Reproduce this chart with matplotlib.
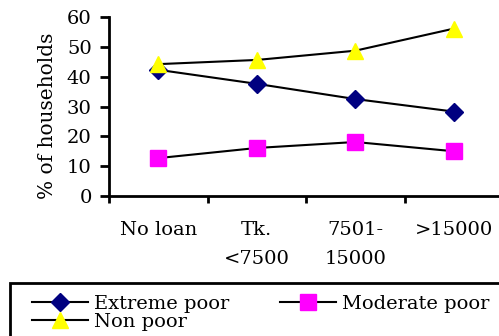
import matplotlib
matplotlib.use("Agg")
import matplotlib.pyplot as plt
from matplotlib.patches import Rectangle
import numpy as np

categories = ["No loan", "Tk.\n<7500", "7501-\n15000", ">15000"]
extreme_poor = [42.3, 37.6, 32.5, 28.3]
moderate_poor = [12.7, 16.1, 18.1, 15.0]
non_poor = [44.2, 45.6, 48.7, 56.1]

plt.rcParams['font.family'] = 'DejaVu Serif'
plt.rcParams['font.size'] = 14

fig = plt.figure(figsize=(4.99, 3.36), dpi=100)
ax = fig.add_axes([109/499, 1-196/336, 394/499, 179/336])

x = np.arange(len(categories))
l1, = ax.plot(x, extreme_poor, color='black', lw=1.5, marker='D', ms=9.5,
              mfc='#000080', mec='#000080', label='Extreme poor')
l2, = ax.plot(x, moderate_poor, color='black', lw=1.5, marker='s', ms=11,
              mfc='#FF00FF', mec='#FF00FF', label='Moderate poor')
l3, = ax.plot(x, non_poor, color='black', lw=1.5, marker='^', ms=11,
              mfc='#FFFF00', mec='#FFFF00', label='Non poor')

ax.set_xlim(-0.5, 3.5)
ax.set_ylim(0, 60)
ax.set_yticks(range(0, 61, 10))
ax.set_xticks(np.arange(-0.5, 3.6, 1))
ax.set_xticklabels([])
ax.set_xticks(x, minor=True)
ax.set_xticklabels(categories, minor=True, linespacing=1.75, va='top')
ax.tick_params(axis='x', which='minor', length=0, pad=18)
ax.tick_params(axis='x', which='major', length=5, width=2)
ax.tick_params(axis='y', length=6.5, width=2, pad=6)

for s in ['top', 'right']:
    ax.spines[s].set_visible(False)
for s in ['left', 'bottom']:
    ax.spines[s].set_linewidth(2)

ax.set_ylabel('% of households', fontsize=14.5)
ax.yaxis.set_label_coords(-0.133, 0.447)

# legend box drawn separately so it runs off the right edge like the original
fig.patches.append(Rectangle((10/499, -0.05), 1.0, 0.05 + 1-283/336,
                             transform=fig.transFigure, fill=False,
                             edgecolor='black', lw=2))
leg = fig.legend([l1, l3, l2], ['Extreme poor', 'Non poor', 'Moderate poor'],
                 ncol=2, loc='upper left',
                 bbox_to_anchor=(32/499, 1-295/336),
                 frameon=False, handlelength=2.9, labelspacing=0.0,
                 borderpad=0, handletextpad=0.3, columnspacing=2.6,
                 borderaxespad=0)

fig.savefig('out.png', dpi=100)
